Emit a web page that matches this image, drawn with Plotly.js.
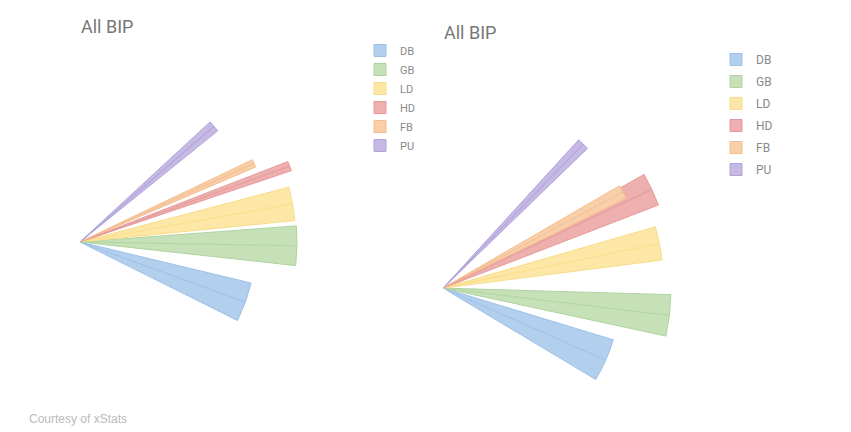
<!DOCTYPE html>
<html>
<head>
<meta charset="utf-8">
<script src="https://cdn.plot.ly/plotly-3.0.1.min.js"></script>
<style>
  html, body { margin: 0; padding: 0; background: #fff; }
  #chart { width: 851px; height: 432px; }
</style>
</head>
<body>
<div id="chart"></div>
<script>
// categories and wedge data (angle in degrees, width in degrees, length)
const categories = ['DB', 'GB', 'LD', 'HD', 'FB', 'PU']
const leftTheta = [-20, -1, 10.2, 19.9, 24.3, 40.8]
const leftWidth = [13, 10.5, 9, 2.5, 2.4, 3.8]
const leftR = [176, 217, 216, 223, 191, 177]
const rightTheta = [-23.9, -6.9, 11.7, 25.3, 28.1, 45.8]
const rightWidth = [14, 10.5, 8.8, 8.4, 4, 3.5]
const rightR = [178, 228, 221, 231, 204, 201]

const fillColors = ['#b3cfee', '#c6e0b8', '#fde7a6', '#eeafaf', '#f9cfaa', '#c6b9e4']
const edgeColors = ['#9dc0e8', '#afd3a0', '#f9dc88', '#e69a9a', '#f4bd8e', '#b1a3da']

function wedgeTraces (thetas, widths, rs, subplot, legend) {
  var traces = []
  categories.forEach(function (cat, i) {
    traces.push({
      type: 'barpolar',
      subplot: subplot,
      legend: legend,
      name: cat,
      legendgroup: subplot + cat,
      r: [rs[i]],
      theta: [thetas[i]],
      width: [widths[i]],
      marker: {
        color: fillColors[i],
        line: { color: edgeColors[i], width: 1 }
      },
      hoverinfo: 'name+r'
    })
    // fold line down the middle of each wedge
    traces.push({
      type: 'scatterpolar',
      subplot: subplot,
      legend: legend,
      legendgroup: subplot + cat,
      showlegend: false,
      mode: 'lines',
      r: [0, rs[i]],
      theta: [thetas[i], thetas[i]],
      line: { color: edgeColors[i], width: 1.2 },
      opacity: 0.8,
      hoverinfo: 'skip'
    })
  })
  return traces
}

var data = wedgeTraces(leftTheta, leftWidth, leftR, 'polar', 'legend')
  .concat(wedgeTraces(rightTheta, rightWidth, rightR, 'polar2', 'legend2'))

var hiddenRadial = { range: [0, 240], visible: false }
var hiddenAngular = { visible: false, rotation: 0, direction: 'counterclockwise' }

var layout = {
  width: 851,
  height: 432,
  margin: { l: 0, r: 0, t: 0, b: 0 },
  paper_bgcolor: '#fff',
  font: { family: 'Roboto, sans-serif', color: '#888' },
  polar: {
    domain: { x: [0.0940, 0.3760], y: [0.047, 0.895] },
    sector: [-45, 55],
    bgcolor: 'rgba(0,0,0,0)',
    radialaxis: hiddenRadial,
    angularaxis: hiddenAngular
  },
  polar2: {
    domain: { x: [0.5206, 0.8026], y: [0.0146, 0.788] },
    sector: [-35, 55],
    bgcolor: 'rgba(0,0,0,0)',
    radialaxis: hiddenRadial,
    angularaxis: hiddenAngular
  },
  legend: {
    x: 360 / 851, y: 1 - 36 / 432, xanchor: 'left', yanchor: 'top',
    font: { size: 11, color: '#8a8a8a' },
    tracegroupgap: 0,
    bgcolor: 'rgba(0,0,0,0)'
  },
  legend2: {
    x: 716 / 851, y: 1 - 45 / 432, xanchor: 'left', yanchor: 'top',
    font: { size: 12, color: '#8a8a8a' },
    tracegroupgap: 3,
    bgcolor: 'rgba(0,0,0,0)'
  },
  annotations: [
    {
      text: 'All BIP', showarrow: false, xref: 'paper', yref: 'paper',
      x: 79 / 851, y: 1 - 14 / 432, xanchor: 'left', yanchor: 'top',
      font: { size: 18, color: '#777' }
    },
    {
      text: 'All BIP', showarrow: false, xref: 'paper', yref: 'paper',
      x: 442 / 851, y: 1 - 20 / 432, xanchor: 'left', yanchor: 'top',
      font: { size: 18, color: '#777' }
    },
    {
      text: 'Courtesy of xStats', showarrow: false, xref: 'paper', yref: 'paper',
      x: 27 / 851, y: 1 - 410 / 432, xanchor: 'left', yanchor: 'top',
      font: { family: 'Liberation Sans, Arial, sans-serif', size: 12, color: '#bbb' }
    }
  ]
}

Plotly.newPlot('chart', data, layout, { displayModeBar: false, staticPlot: true })
</script>
</body>
</html>
